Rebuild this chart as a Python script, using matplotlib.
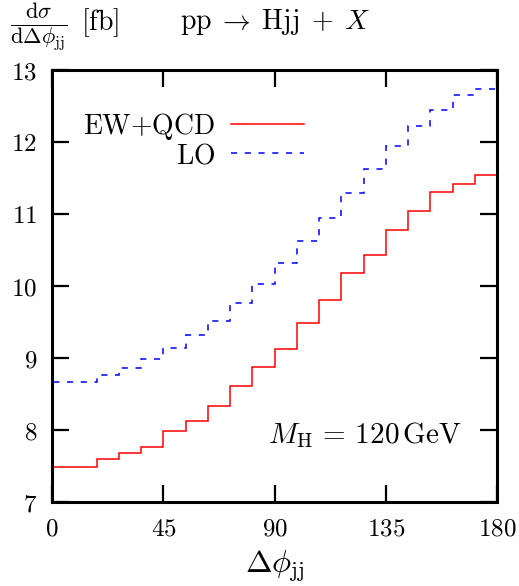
import numpy as np
import matplotlib
matplotlib.use("Agg")
import matplotlib.pyplot as plt

plt.rcParams['mathtext.fontset'] = 'cm'
plt.rcParams['font.family'] = 'serif'
plt.rcParams['font.serif'] = ['DejaVu Serif']

# bin edges in degrees (9 degree bins)
edges = np.arange(0, 181, 9)

# EW+QCD (red) and LO (blue dashed), fb per bin
ew_qcd = [7.49, 7.49, 7.60, 7.675, 7.77, 7.985, 8.12, 8.33, 8.61, 8.87,
          9.12, 9.49, 9.81, 10.18, 10.43, 10.78, 11.04, 11.31, 11.42, 11.545]
lo = [8.67, 8.67, 8.77, 8.855, 8.98, 9.14, 9.32, 9.52, 9.77, 10.03,
      10.32, 10.63, 10.94, 11.29, 11.62, 11.94, 12.22, 12.45, 12.65, 12.73]

xticks = [0, 45, 90, 135, 180]
yticks = [7, 8, 9, 10, 11, 12, 13]

fig = plt.figure(figsize=(5.19, 5.86), dpi=100)
ax = fig.add_axes([0.1005, 0.1433, 0.8575, 0.7372])

ax.stairs(ew_qcd, edges, color='#ff0000', lw=1.1, label=r'$\mathrm{EW}{+}\mathrm{QCD}$')
ax.stairs(lo, edges, color='#0000ff', lw=1.1, linestyle=(0, (4, 5)),
          label=r'$\mathrm{LO}$')

ax.set_xlim(0, 180)
ax.set_ylim(7, 13)
ax.set_xticks(xticks)
ax.set_xticklabels([f'${t}$' for t in xticks])
ax.set_yticks(yticks)
ax.set_yticklabels([f'${t}$' for t in yticks])
ax.tick_params(direction='in', length=12, width=1.6, top=True, right=True,
               labelsize=18, pad=11)
for s in ax.spines.values():
    s.set_linewidth(2.2)

ax.legend(loc='upper left', bbox_to_anchor=(0.07, 0.905), frameon=False,
          markerfirst=False, fontsize=20, handlelength=2.65, labelspacing=0.0,
          handletextpad=0.55, borderaxespad=0, borderpad=0)

ax.text(0.92, 0.155, r'$M_{\mathrm{H}} \,=\, 120\,\mathrm{GeV}$', transform=ax.transAxes,
        ha='right', va='center', fontsize=21)

ax.set_xlabel(r'$\Delta\phi_{\mathrm{jj}}$', fontsize=23, labelpad=6)

fig.text(0.02, 0.953, r'$\frac{\mathrm{d}\sigma}{\mathrm{d}\Delta\phi_{\mathrm{jj}}}$',
         ha='left', va='center', fontsize=23)
fig.text(0.156, 0.962, r'$[\mathrm{fb}]$', ha='left', va='center', fontsize=20)
fig.text(0.347, 0.962, r'$\mathrm{pp} \;\rightarrow\; \mathrm{Hjj} \;+\; X$',
         ha='left', va='center', fontsize=20)

fig.savefig('out.png', dpi=100)
